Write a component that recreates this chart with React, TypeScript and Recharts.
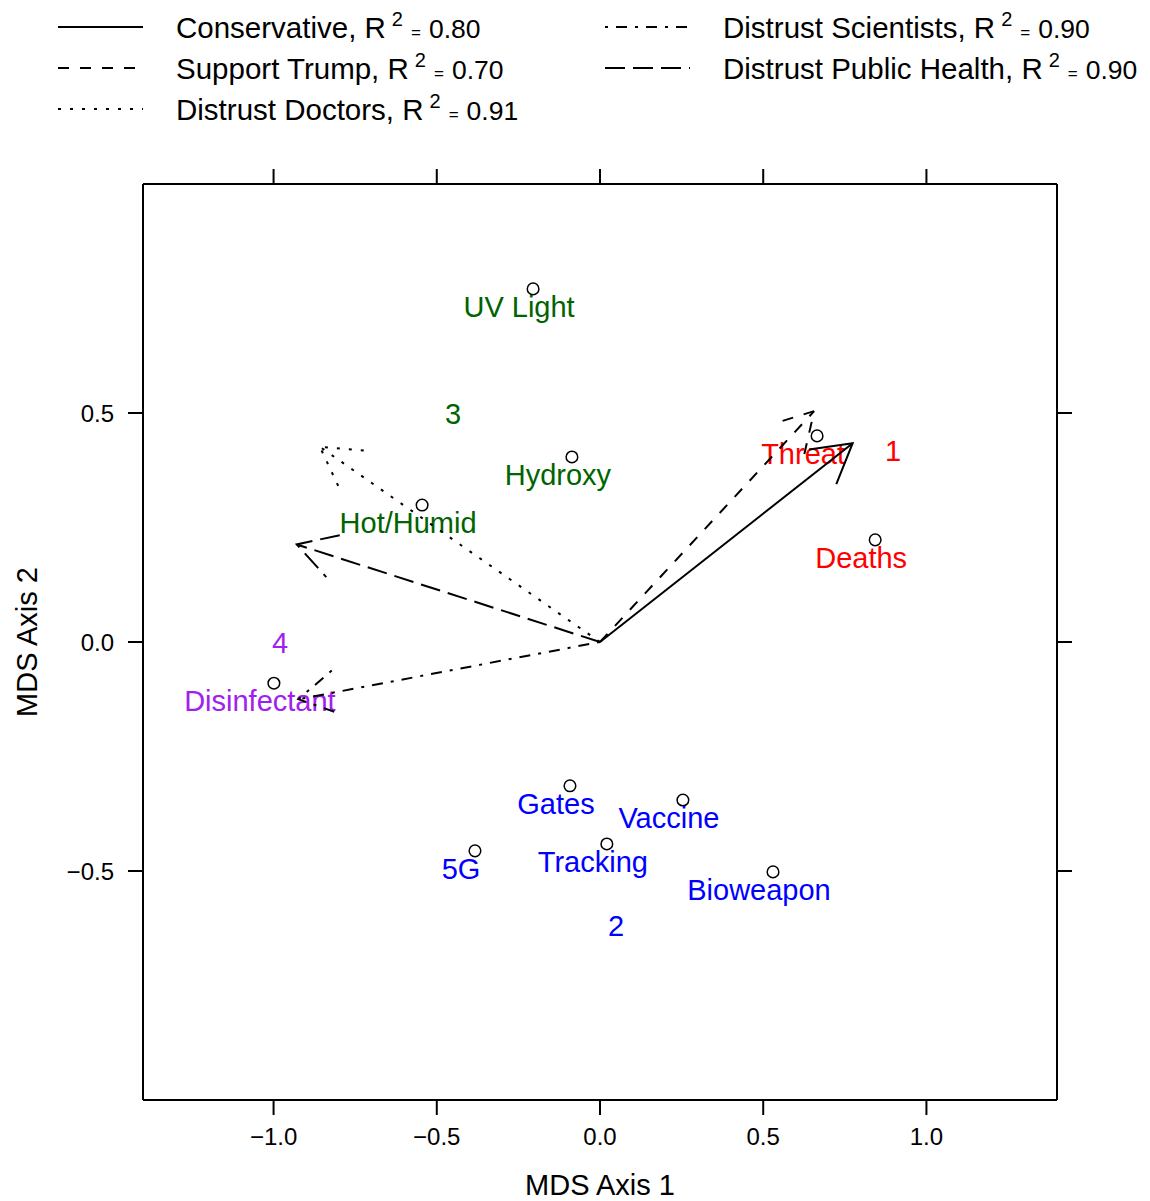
import React from "react";
import { ScatterChart, Scatter, XAxis, YAxis, Legend } from "recharts";

const FONT = '"Liberation Sans", Arial, Helvetica, sans-serif';

const CHART_W = 1150;
const CHART_H = 1201;
const LEFT = 143;
const RIGHT = 93;
const TOP = 184;
const BOTTOM = 101;

const xDomain: [number, number] = [-1.4, 1.4];
const yDomain: [number, number] = [-1, 1];
const xTicks = [-1, -0.5, 0, 0.5, 1];
const yTicks = [-0.5, 0, 0.5];

// MDS item positions
const itemNames = ["UV Light", "Hydroxy", "Hot/Humid", "Threat", "Deaths", "Disinfectant", "Gates", "Vaccine", "Tracking", "5G", "Bioweapon"];
const itemX = [-0.205, -0.086, -0.545, 0.665, 0.843, -0.999, -0.092, 0.254, 0.021, -0.383, 0.53];
const itemY = [0.771, 0.404, 0.299, 0.45, 0.223, -0.09, -0.314, -0.345, -0.441, -0.456, -0.502];
const itemGroup = [3, 3, 3, 1, 1, 4, 2, 2, 2, 2, 2];

// cluster labels
const clusterIds = ["1", "2", "3", "4"];
const clusterX = [0.898, 0.049, -0.45, -0.98];
const clusterY = [0.417, -0.62, 0.498, -0.002];

// fitted vectors
const vectorNames = ["Conservative", "Support Trump", "Distrust Doctors", "Distrust Scientists", "Distrust Public Health"];
const vectorR2 = ["0.80", "0.70", "0.91", "0.90", "0.90"];
const vectorX = [0.774, 0.656, -0.858, -0.924, -0.929];
const vectorY = [0.434, 0.504, 0.426, -0.125, 0.213];

const groupColors: Record<number, string> = { 1: "#FF0000", 2: "#0000FF", 3: "#006400", 4: "#A020F0" };
const vectorDash: (string | undefined)[] = [undefined, "11 11", "3 9", "3 8 11 8", "20 8"];

const PX_X = (CHART_W - LEFT - RIGHT) / (xDomain[1] - xDomain[0]);
const PX_Y = (CHART_H - TOP - BOTTOM) / (yDomain[1] - yDomain[0]);
const HEAD_LEN = 44;
const HEAD_ANG = Math.PI / 6;

const items = itemNames.map((name, i) => ({ name, x: itemX[i], y: itemY[i], group: itemGroup[i] }));
const clusters = clusterIds.map((id, i) => ({ id, x: clusterX[i], y: clusterY[i], group: Number(id) }));

const fmt = (v: number) => (v < 0 ? "\u2212" + Math.abs(v).toFixed(1) : v.toFixed(1));

const renderItem = (props: any) => {
  const { cx, cy, payload } = props;
  return (
    <g>
      <circle cx={cx} cy={cy} r={5.8} fill="none" stroke="#000" strokeWidth={1.5} />
      <text x={cx - 14} y={cy + 28} textAnchor="middle" fill={groupColors[payload.group]} fontSize={29} fontFamily={FONT}>
        {payload.name}
      </text>
    </g>
  );
};

const renderCluster = (props: any) => {
  const { cx, cy, payload } = props;
  return (
    <text x={cx} y={cy + 10} textAnchor="middle" fill={groupColors[payload.group]} fontSize={29} fontFamily={FONT}>
      {payload.id}
    </text>
  );
};

function makeHead(dash?: string) {
  return (props: any) => {
    const { cx, cy, payload } = props;
    if (!payload || !payload.tip) return <g />;
    const ang = Math.atan2(-payload.y * PX_Y, payload.x * PX_X);
    const back = ang + Math.PI;
    const x1 = cx + HEAD_LEN * Math.cos(back - HEAD_ANG);
    const y1 = cy + HEAD_LEN * Math.sin(back - HEAD_ANG);
    const x2 = cx + HEAD_LEN * Math.cos(back + HEAD_ANG);
    const y2 = cy + HEAD_LEN * Math.sin(back + HEAD_ANG);
    return (
      <path
        d={`M${x1},${y1}L${cx},${cy}L${x2},${y2}`}
        fill="none"
        stroke="#000"
        strokeWidth={2}
        strokeDasharray={dash}
      />
    );
  };
}

const renderLegend = () => (
  <svg width={CHART_W} height={135} style={{ display: "block" }}>
    {vectorNames.map((name, i) => {
      const col = Math.floor(i / 3);
      const row = i % 3;
      const lx = col === 0 ? 58 : 605;
      const tx = col === 0 ? 176 : 723;
      const base = 38 + row * 41;
      return (
        <g key={name}>
          <line x1={lx} x2={lx + 85} y1={base - 11} y2={base - 11} stroke="#000" strokeWidth={2} strokeDasharray={vectorDash[i]} />
          <text x={tx} y={base} fontSize={29.5} fontFamily={FONT} fill="#000">
            {name + ", R"}
            <tspan fontSize={20} dx={6} dy={-12}>2</tspan>
            <tspan fontSize={17} dx={8} dy={12}>=</tspan>
            <tspan fontSize={26.5} dx={8}>{vectorR2[i]}</tspan>
          </text>
        </g>
      );
    })}
  </svg>
);

const axisStroke = { stroke: "#000", strokeWidth: 2 };
const tickStyle = { fill: "#000", fontSize: 24, fontFamily: FONT };
const noLabel = () => <g />;
const noShape = () => <g />;

export default function App() {
  return (
    <div style={{ position: "absolute", left: 0, top: 0, width: CHART_W, height: CHART_H, fontFamily: FONT, background: "#fff" }}>
      <ScatterChart width={CHART_W} height={CHART_H} margin={{ top: 0, right: 0, bottom: 0, left: 0 }}>
        <XAxis
          xAxisId="b"
          type="number"
          dataKey="x"
          orientation="bottom"
          domain={xDomain}
          allowDataOverflow
          ticks={xTicks}
          tickFormatter={fmt}
          height={BOTTOM}
          tickSize={15}
          tickMargin={13}
          tick={tickStyle}
          tickLine={axisStroke}
          axisLine={axisStroke}
          label={(p: any) => {
            const vb = p.viewBox;
            return (
              <text x={vb.x + vb.width / 2} y={vb.y + vb.height - 6} textAnchor="middle" fontSize={29} fontFamily={FONT} fill="#000">
                MDS Axis 1
              </text>
            );
          }}
        />
        <XAxis
          xAxisId="t"
          type="number"
          dataKey="x"
          orientation="top"
          domain={xDomain}
          allowDataOverflow
          ticks={xTicks}
          interval={0}
          height={TOP}
          tickSize={15}
          tick={noLabel}
          tickLine={axisStroke}
          axisLine={axisStroke}
        />
        <YAxis
          yAxisId="l"
          type="number"
          dataKey="y"
          orientation="left"
          domain={yDomain}
          allowDataOverflow
          ticks={yTicks}
          tickFormatter={fmt}
          width={LEFT}
          tickSize={15}
          tickMargin={14}
          tick={tickStyle}
          tickLine={axisStroke}
          axisLine={axisStroke}
          label={(p: any) => {
            const vb = p.viewBox;
            const cy = vb.y + vb.height / 2;
            return (
              <text x={37} y={cy} transform={`rotate(-90, 37, ${cy})`} textAnchor="middle" fontSize={29} fontFamily={FONT} fill="#000">
                MDS Axis 2
              </text>
            );
          }}
        />
        <YAxis
          yAxisId="r"
          type="number"
          dataKey="y"
          orientation="right"
          domain={yDomain}
          allowDataOverflow
          ticks={yTicks}
          width={RIGHT}
          tickSize={15}
          tick={noLabel}
          tickLine={axisStroke}
          axisLine={axisStroke}
        />
        <Legend
          content={renderLegend}
          layout="horizontal"
          verticalAlign="middle"
          align="center"
          wrapperStyle={{ top: 0, left: 0, width: CHART_W, height: 135 }}
        />
        <Scatter xAxisId="t" yAxisId="r" data={items} shape={noShape} isAnimationActive={false} legendType="none" />
        <Scatter xAxisId="b" yAxisId="l" data={items} shape={renderItem} isAnimationActive={false} legendType="none" />
        <Scatter xAxisId="b" yAxisId="l" data={clusters} shape={renderCluster} isAnimationActive={false} legendType="none" />
        {vectorNames.map((name, i) => (
          <Scatter
            key={name}
            name={name}
            xAxisId="b"
            yAxisId="l"
            data={[
              { x: 0, y: 0, tip: false },
              { x: vectorX[i], y: vectorY[i], tip: true },
            ]}
            line={{ stroke: "#000", strokeWidth: 2, strokeDasharray: vectorDash[i] }}
            lineType="joint"
            shape={makeHead(vectorDash[i])}
            isAnimationActive={false}
          />
        ))}
      </ScatterChart>
    </div>
  );
}
